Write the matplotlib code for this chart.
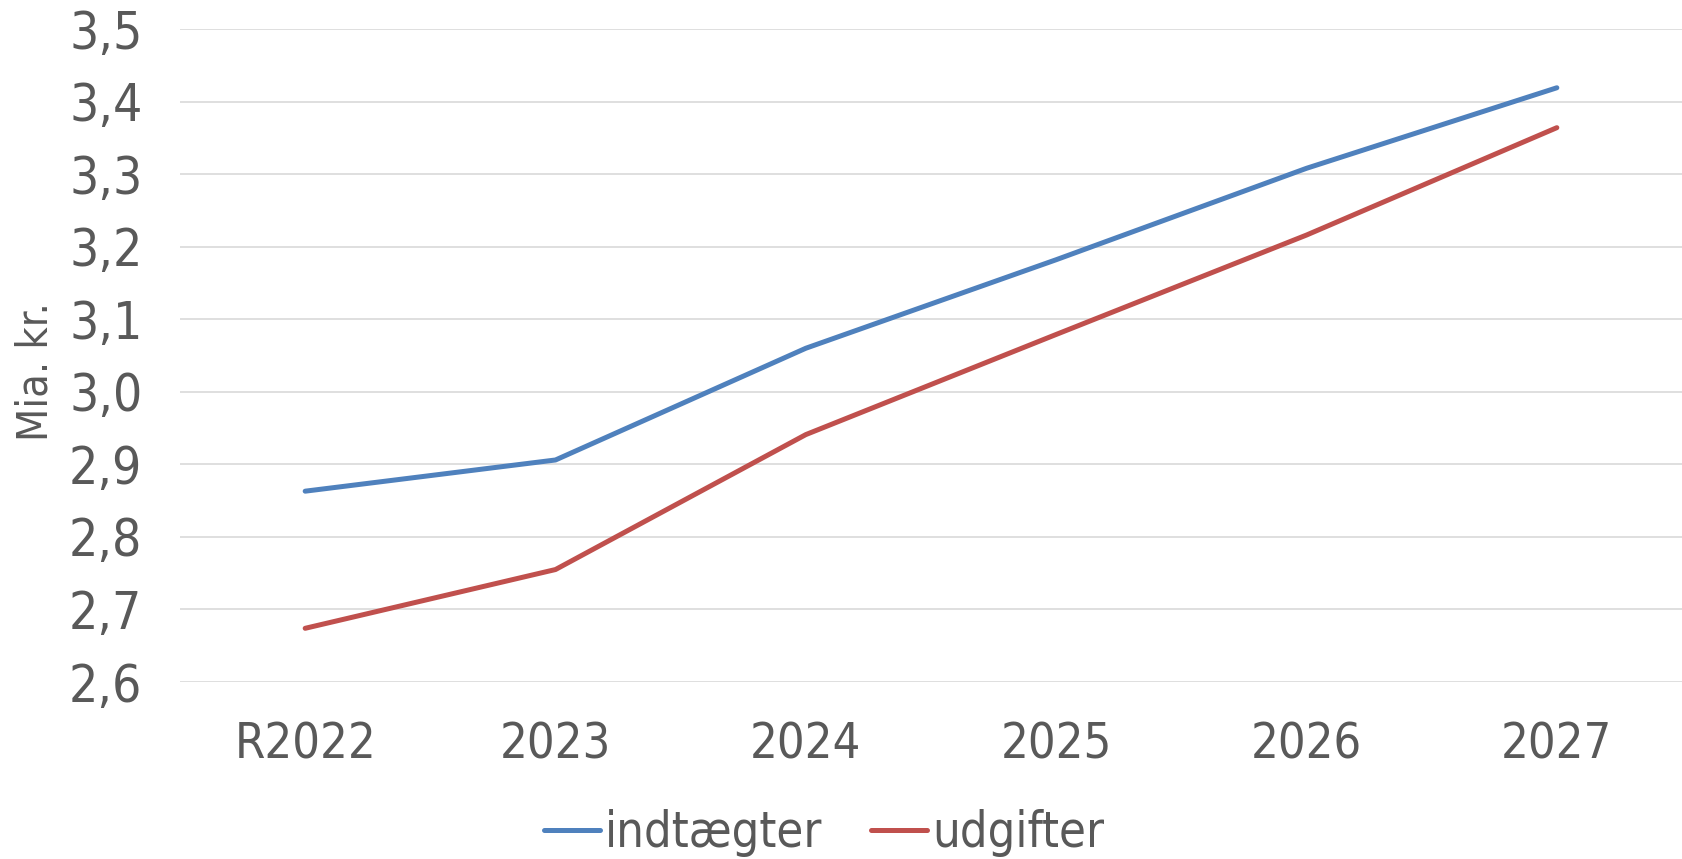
import numpy as np
import matplotlib
matplotlib.use("Agg")
import matplotlib.pyplot as plt

years = ["R2022", "2023", "2024", "2025", "2026", "2027"]
indtaegter = [2.863, 2.906, 3.060, 3.182, 3.308, 3.419]
udgifter = [2.674, 2.755, 2.941, 3.079, 3.216, 3.364]
yticks = [2.6, 2.7, 2.8, 2.9, 3.0, 3.1, 3.2, 3.3, 3.4, 3.5]

plt.rcParams['font.family'] = ['DejaVu Sans']
plt.rcParams['font.stretch'] = 'condensed'
txt = '#595959'

fig = plt.figure(figsize=(16.82, 8.59), dpi=100)
ax = fig.add_axes([180 / 1682, 1 - 682 / 859, 1502 / 1682, 653 / 859])

x = np.arange(len(years))
ax.plot(x, indtaegter, color='#4f81bd', lw=3.6, solid_capstyle='round',
        solid_joinstyle='round', label='indtægter')
ax.plot(x, udgifter, color='#c0504d', lw=3.6, solid_capstyle='round',
        solid_joinstyle='round', label='udgifter')

ax.set_xlim(-0.5, len(years) - 0.5)
ax.set_ylim(2.6, 3.5)
ax.set_yticks(yticks)
ax.set_yticklabels([f"{v:.1f}".replace('.', ',') for v in yticks])
ax.set_xticks(x)
ax.set_xticklabels(years)
ax.tick_params(length=0, colors=txt)
ax.tick_params(axis='y', pad=27, labelsize=37)
ax.tick_params(axis='x', pad=28, labelsize=35)
ax.yaxis.grid(True, color='#d9d9d9', lw=1.2)
ax.set_axisbelow(True)
for s in ax.spines.values():
    s.set_visible(False)

ax.set_ylabel('Mia. kr.', fontsize=31, color=txt)
ax.yaxis.set_label_coords(-0.082, 0.475)

fig.legend(loc='center', bbox_to_anchor=(824 / 1682, 1 - 833 / 859), ncol=2,
           frameon=False, fontsize=35, handlelength=1.15, handletextpad=0.1,
           columnspacing=1.0, labelcolor=txt)

fig.savefig('out.png', dpi=100)
